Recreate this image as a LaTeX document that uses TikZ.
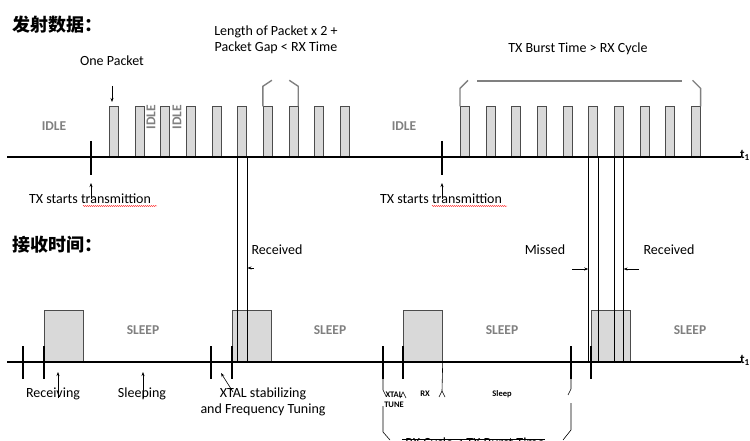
\documentclass[tikz,border=0pt]{standalone}
\usepackage{fontspec}
\setmainfont{Carlito}
\newfontfamily\cjk{Noto Sans CJK SC}
\usepackage{tikz}
\usetikzlibrary{
    positioning,
    arrows.meta,
    decorations.pathmorphing,
}
\tikzset{
    % Signal styles
    pulse/.style={rectangle, draw=black!70, fill=black!15, line width=0.7pt,
                  minimum width=9pt, minimum height=50pt, inner sep=0pt, anchor=south west},
    rx box/.style={rectangle, draw=black!70, fill=black!15, line width=0.7pt,
                  minimum width=39pt, minimum height=51pt, inner sep=0pt, anchor=south west},
    % Line styles
    time axis/.style={line width=2.3pt},
    marker/.style={line width=2.6pt},
    guide/.style={line width=0.6pt},
    brace line/.style={draw=black!50, line width=1.4pt},
    thin brace/.style={line width=0.6pt},
    pointer/.style={-{Stealth[length=4pt, width=3pt]}, line width=0.6pt},
    spell/.style={draw=red!80, line width=0.4pt, decorate,
                  decoration={snake, amplitude=0.6pt, segment length=2pt}},
    % Text styles
    txt/.style={font=\fontsize{14}{16}\selectfont, inner sep=0pt, align=center},
    state/.style={font=\bfseries\fontsize{13.5}{15}\selectfont, text=black!50, inner sep=0pt},
    tiny/.style={font=\bfseries\fontsize{8.5}{10}\selectfont, inner sep=0pt, align=center},
    title/.style={font=\cjk\bfseries\fontsize{18}{20}\selectfont, anchor=west, inner sep=0pt},
}

\begin{document}
\begin{tikzpicture}[x=1pt, y=-1pt]
    \useasboundingbox (0,0) rectangle (750,441);
    \fill[white] (0,0) rectangle (750,441);

    % Titles
    \node[title] (tx title) at (12,25) {发射数据：};
    \node[title] (rx title) at (12,245) {接收时间：};

    % Time axes
    \coordinate (tx start) at (7,157);
    \coordinate (tx end) at (741,157);
    \coordinate (rx start) at (7,362);
    \coordinate (rx end) at (741,362);

    % TX bursts
    \foreach \i in {1,...,10} {
        \node[pulse] (p\i) at ({109+25.65*(\i-1)},157) {};
        \node[pulse] (q\i) at ({460+25.65*(\i-1)},157) {};
    }

    % RX windows
    \node[rx box] (w1) at (44,362) {};
    \node[rx box] (w2) at (232,362) {};
    \node[rx box] (w3) at (403,362) {};
    \node[rx box] (w4) at (591,362) {};

    % Packets reaching the receiver
    \foreach \p in {p6, q6, q7} {
        \draw[guide] (\p.south west) -- (\p.south west |- rx start);
        \draw[guide] (\p.south east) -- (\p.south east |- rx start);
    }

    \draw[time axis] (tx start) -- (tx end);
    \draw[time axis] (rx start) -- (rx end);
    \node[font=\bfseries\fontsize{13}{15}\selectfont, anchor=west, inner sep=0pt]
        (tx t) at (740,155) {t\textsubscript{1}};
    \node[font=\bfseries\fontsize{13}{15}\selectfont, anchor=west, inner sep=0pt]
        (rx t) at (740,360) {t\textsubscript{1}};

    % TX start markers
    \draw[marker] (91,141) -- (91,175);
    \draw[marker] (442,141) -- (442,175);
    \node[txt] (start l) at (90,199) {TX starts transmittion};
    \node[txt] (start r) at (441,199) {TX starts transmittion};
    \coordinate (mark l) at (91,183);
    \coordinate (mark r) at (442,183);
    \draw[pointer] (start l.center -| mark l) -- (mark l);
    \draw[pointer] (start r.center -| mark r) -- (mark r);
    \draw[spell] (83,206) -- (157,206);
    \draw[spell] (432,206) -- (507,206);

    % TX labels
    \node[state] (idle l) at (54,126) {IDLE};
    \node[state] (idle r) at (404,126) {IDLE};
    \node[state, rotate=90] (idle a) at (151,117) {IDLE};
    \node[state, rotate=90] (idle b) at (177,117) {IDLE};
    \node[txt] (one) at (112,61) {One Packet};
    \coordinate (one tip) at (112,102);
    \draw[pointer] (112,86) -- (one tip);

    % Two packets + gap
    \node[txt] (len) at (276,40) {Length of Packet x 2 +\\Packet Gap < RX Time};
    \draw[brace line] (p7.north west) -- ++(0,-20) -- ++(9,-6);
    \draw[brace line] (p8.north east) -- ++(0,-20) -- ++(-9,-6);

    % Whole burst
    \node[txt] (burst) at (578,49) {TX Burst Time > RX Cycle};
    \draw[brace line] (q1.north west) -- ++(0,-18) -- ++(8,-8);
    \draw[brace line] (q10.north east) -- ++(0,-18) -- ++(-8,-8);
    \draw[brace line] (477,81) -- (682,81);

    % RX markers
    \foreach \x in {23, 44, 211, 232, 383, 403, 571, 591}
        \draw[marker] (\x,346) -- (\x,379);

    \node[state] (sleep a) at (143,330) {SLEEP};
    \node[state] (sleep b) at (330,330) {SLEEP};
    \node[state] (sleep c) at (502,330) {SLEEP};
    \node[state] (sleep d) at (690,330) {SLEEP};

    % RX labels
    \node[txt] (recv) at (53,394) {Receiving};
    \node[txt] (slp) at (142,394) {Sleeping};
    \node[txt] (xtal) at (263,402) {XTAL stabilizing\\and Frequency Tuning};
    \draw[pointer] (58,398) -- (58,372);
    \draw[pointer] (143,398) -- (143,372);
    \draw[pointer] (233,392) -- (221,373);

    \node[txt] (got l) at (277,250) {Received};
    \node[txt] (miss) at (545,250) {Missed};
    \node[txt] (got r) at (669,250) {Received};
    \draw[pointer] (p6.south east |- 0,268) ++(7,0) -- ++(-6.5,0);
    \draw[pointer] (572,269) -- (q6.south west |- 0,269);
    \draw[pointer] (639,269) -- (q7.south east |- 0,269);

    % RX cycle
    \node[tiny] (tune) at (394,400) {XTAL\\TUNE};
    \node[tiny] (rxw) at (425,394) {RX};
    \node[tiny] (sleepw) at (502,394) {Sleep};
    \draw[thin brace] (383,379) -- (383,390) -- (386,396);
    \draw[thin brace] (400,398) -- (403,392) -- (406,398);
    \draw[thin brace] (w3.south east) -- (442,391) -- (439,397);
    \draw[thin brace] (442,391) -- (445,397);
    \draw[thin brace] (571,379) -- (571,389) -- (568,395);
    \draw[thin brace] (383,406) -- (383,432) -- (390,440);
    \draw[thin brace] (571,403) -- (571,430) -- (563,440);
    \node[txt, anchor=base] (cycle) at (475,447) {RX Cycle < TX Burst Time};
    \draw[thin brace] (402,439) -- (545,439);
\end{tikzpicture}
\end{document}
